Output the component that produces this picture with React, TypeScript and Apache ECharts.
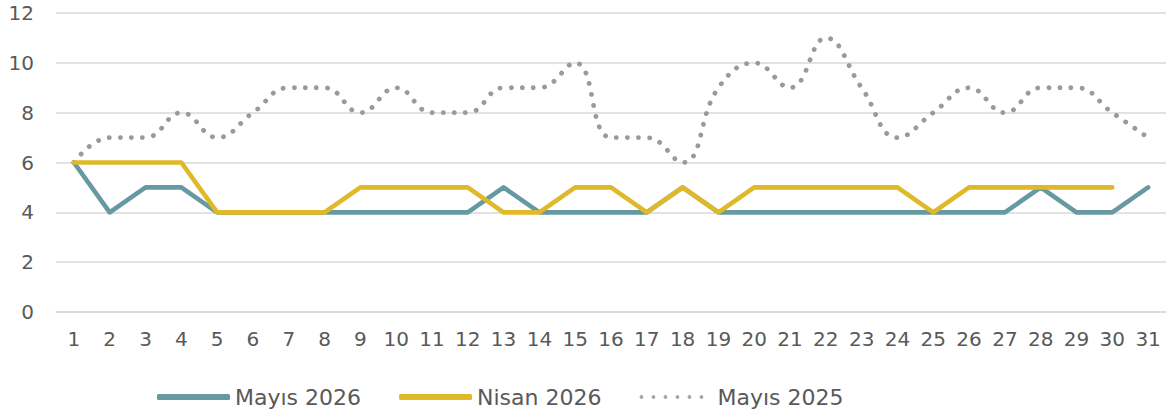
import React, { useEffect, useRef } from "react";
import * as echarts from "echarts";

const days = Array.from({ length: 31 }, (_, i) => String(i + 1));
const mayis2026 = [6, 4, 5, 5, 4, 4, 4, 4, 4, 4, 4, 4, 5, 4, 4, 4, 4, 5, 4, 4, 4, 4, 4, 4, 4, 4, 4, 5, 4, 4, 5];
const nisan2026 = [6, 6, 6, 6, 4, 4, 4, 4, 5, 5, 5, 5, 4, 4, 5, 5, 4, 5, 4, 5, 5, 5, 5, 5, 4, 5, 5, 5, 5, 5, null];
const mayis2025 = [6, 7, 7, 8, 7, 8, 9, 9, 8, 9, 8, 8, 9, 9, 10, 7, 7, 6, 9, 10, 9, 11, 9, 7, 8, 9, 8, 9, 9, 8, 7];

const FONT = "DejaVu Sans";
const TXT = "#595959";
const TEAL = "#6699a1";
const GOLD = "#e0b929";
const GRAY = "#9a9a9a";

function dotsPath() {
  const r = 1.9;
  let d = "path://";
  for (let i = 0; i < 6; i++) {
    const cx = 2 + i * 12;
    d += `M${cx - r},3a${r},${r} 0 1,0 ${2 * r},0a${r},${r} 0 1,0 ${-2 * r},0Z`;
  }
  // tiny anchors so the icon keeps the full slot size
  d += `M72.98,3a0.01,0.01 0 1,0 0.02,0a0.01,0.01 0 1,0 -0.02,0Z`;
  d += `M0,0.1L0.01,0.1Z M0,5.9L0.01,5.9Z`;
  return d;
}

export default function App() {
  const ref = useRef<HTMLDivElement>(null);
  useEffect(() => {
    const chart = echarts.init(ref.current!, null, { renderer: "svg" });
    chart.setOption({
      animation: false,
      grid: { left: 56, right: 5, top: 13, bottom: 104 },
      legend: {
        bottom: 3,
        left: 152,
        itemWidth: 73,
        itemHeight: 6,
        itemGap: 38,
        textStyle: { fontFamily: FONT, fontSize: 22, color: TXT },
        data: [
          { name: "Mayıs 2026", icon: "roundRect", itemStyle: { color: TEAL } },
          { name: "Nisan 2026", icon: "roundRect", itemStyle: { color: GOLD } },
          { name: "Mayıs 2025", icon: dotsPath(), itemStyle: { color: "#a6a6a6" } },
        ],
      },
      xAxis: {
        type: "category",
        data: days,
        boundaryGap: true,
        axisLine: { lineStyle: { color: "#d9d9d9", width: 1.5 } },
        axisTick: { show: false },
        axisLabel: { fontFamily: FONT, fontSize: 20, color: TXT, margin: 17, interval: 0 },
      },
      yAxis: {
        type: "value",
        min: 0,
        max: 12,
        interval: 2,
        axisLine: { show: false },
        axisTick: { show: false },
        splitLine: { lineStyle: { color: "#d9d9d9", width: 1.5 } },
        axisLabel: { fontFamily: FONT, fontSize: 20, color: TXT, margin: 22 },
      },
      series: [
        {
          name: "Mayıs 2026",
          type: "line",
          data: mayis2026,
          symbol: "none",
          lineStyle: { color: TEAL, width: 4.6, cap: "round", join: "round" },
          itemStyle: { color: TEAL },
          z: 2,
        },
        {
          name: "Nisan 2026",
          type: "line",
          data: nisan2026,
          symbol: "none",
          lineStyle: { color: GOLD, width: 4.6, cap: "round", join: "round" },
          itemStyle: { color: GOLD },
          z: 3,
        },
        {
          name: "Mayıs 2025",
          type: "line",
          data: mayis2025,
          symbol: "none",
          smooth: 0.45,
          lineStyle: { color: GRAY, width: 4.8, type: [0.1, 11], cap: "round" },
          itemStyle: { color: GRAY },
          z: 1,
        },
      ],
    });
    return () => chart.dispose();
  }, []);
  return <div ref={ref} style={{ width: 1171, height: 416, position: "absolute", left: 0, top: 0 }} />;
}
